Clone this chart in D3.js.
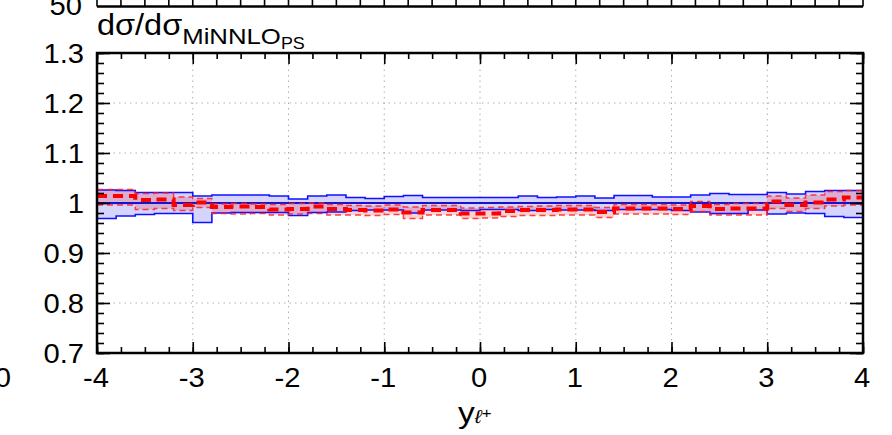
<!DOCTYPE html>
<html>
<head>
<meta charset="utf-8">
<script src="https://cdn.jsdelivr.net/npm/d3@7"></script>
<style>
  html, body { margin: 0; padding: 0; background: #fff; }
  svg { display: block; }
  text { font-family: "Liberation Sans", Arial, Helvetica, sans-serif; fill: #000; }
</style>
</head>
<body>
<svg id="chart" width="892" height="435"></svg>
<script>
// Bin edges of the rapidity histogram (0.2 wide)
const binEdges = [-4.0, -3.8, -3.6, -3.4, -3.2, -3.0, -2.8, -2.6, -2.4, -2.2, -2.0,
  -1.8, -1.6, -1.4, -1.2, -1.0, -0.8, -0.6, -0.4, -0.2, 0.0,
  0.2, 0.4, 0.6, 0.8, 1.0, 1.2, 1.4, 1.6, 1.8, 2.0,
  2.2, 2.4, 2.6, 2.8, 3.0, 3.2, 3.4, 3.6, 3.8, 4.0];

// MiNNLO_PS scale band relative to its central value
const refUpper = [1.026, 1.025, 1.021, 1.021, 1.021, 1.014, 1.016, 1.016, 1.016, 1.014,
  1.008, 1.014, 1.016, 1.011, 1.009, 1.013, 1.015, 1.011, 1.011, 1.011,
  1.011, 1.011, 1.014, 1.011, 1.012, 1.014, 1.010, 1.015, 1.015, 1.012,
  1.012, 1.016, 1.019, 1.017, 1.017, 1.021, 1.018, 1.023, 1.025, 1.025];
const refLower = [0.969, 0.974, 0.977, 0.979, 0.979, 0.961, 0.980, 0.981, 0.981, 0.981,
  0.975, 0.981, 0.982, 0.985, 0.986, 0.986, 0.980, 0.986, 0.986, 0.985,
  0.987, 0.987, 0.985, 0.987, 0.986, 0.986, 0.985, 0.987, 0.987, 0.987,
  0.985, 0.982, 0.979, 0.979, 0.986, 0.978, 0.980, 0.979, 0.973, 0.971];

// Comparison prediction (central value and scale band) relative to MiNNLO_PS
const cmpCentral = [1.014, 1.014, 1.006, 1.007, 0.996, 1.001, 0.992, 0.993, 0.992, 0.987,
  0.988, 0.993, 0.988, 0.986, 0.985, 0.987, 0.981, 0.986, 0.986, 0.979,
  0.979, 0.984, 0.986, 0.986, 0.987, 0.987, 0.982, 0.989, 0.989, 0.989,
  0.988, 0.994, 0.988, 0.989, 0.989, 1.003, 0.996, 1.001, 1.007, 1.011];
const cmpUpper = [1.027, 1.027, 1.019, 1.020, 1.012, 1.009, 0.998, 0.999, 0.998, 0.997,
  0.999, 1.000, 0.997, 0.995, 0.994, 0.996, 0.992, 0.995, 0.995, 0.990,
  0.991, 0.992, 0.993, 0.994, 0.995, 0.995, 0.991, 0.997, 0.997, 0.997,
  0.996, 1.003, 0.997, 0.999, 0.999, 1.014, 1.010, 1.016, 1.023, 1.025];
const cmpLower = [0.996, 0.996, 0.987, 0.989, 0.985, 0.991, 0.979, 0.978, 0.979, 0.976,
  0.978, 0.979, 0.976, 0.976, 0.975, 0.977, 0.969, 0.976, 0.976, 0.969,
  0.970, 0.973, 0.975, 0.975, 0.976, 0.976, 0.971, 0.978, 0.978, 0.978,
  0.977, 0.983, 0.976, 0.976, 0.976, 0.989, 0.983, 0.989, 0.994, 0.996];

// Axis ticks
const xMajorTicks = [-4, -3, -2, -1, 0, 1, 2, 3, 4];
const xTickLabels = ["-4", "-3", "-2", "-1", "0", "1", "2", "3", "4"];
const yMajorTicks = [0.7, 0.8, 0.9, 1.0, 1.1, 1.2, 1.3];
const yTickLabels = ["0.7", "0.8", "0.9", "1", "1.1", "1.2", "1.3"];

const svg = d3.select("#chart");
const plot = { left: 97, right: 863, top: 53, bottom: 353 };
const stretch = 1.08; // slightly wide lettering

const x = d3.scaleLinear().domain([-4, 4]).range([plot.left, plot.right]);
const y = d3.scaleLinear().domain([0.7, 1.3]).range([plot.bottom, plot.top]);

const xMinor = d3.range(-4, 4.0001, 0.25).map(v => +v.toFixed(2));
const yMinor = d3.range(0.7, 1.3001, 0.02).map(v => +v.toFixed(2));

// Histogram helper: turns per-bin values into a stepped series
function steps(vals) {
  const pts = [];
  vals.forEach((v, i) => { pts.push([binEdges[i], v]); pts.push([binEdges[i + 1], v]); });
  return pts;
}
function bandSteps(lo, hi) {
  const pts = [];
  lo.forEach((v, i) => {
    pts.push({ x: binEdges[i], lo: v, hi: hi[i] });
    pts.push({ x: binEdges[i + 1], lo: v, hi: hi[i] });
  });
  return pts;
}
const line = d3.line().x(d => x(d[0])).y(d => y(d[1]));
const area = d3.area().x(d => x(d.x)).y0(d => y(d.lo)).y1(d => y(d.hi));

// Dotted grid at major ticks
const grid = svg.append("g");
grid.selectAll(".gx").data(xMajorTicks.slice(1, -1)).join("line")
  .attr("x1", d => x(d)).attr("x2", d => x(d))
  .attr("y1", plot.top).attr("y2", plot.bottom)
  .attr("stroke", "#b0b0b0").attr("stroke-width", 1).attr("stroke-dasharray", "1.5,4");
grid.selectAll(".gy").data(yMajorTicks.slice(1, -1)).join("line")
  .attr("x1", plot.left).attr("x2", plot.right)
  .attr("y1", d => y(d)).attr("y2", d => y(d))
  .attr("stroke", "#b0b0b0").attr("stroke-width", 1).attr("stroke-dasharray", "1.5,4");

// MiNNLO_PS band
svg.append("path").datum(bandSteps(refLower, refUpper))
  .attr("d", area).attr("fill", "rgba(40,40,255,0.2)");
// Comparison band
svg.append("path").datum(bandSteps(cmpLower, cmpUpper))
  .attr("d", area).attr("fill", "rgba(255,0,0,0.18)");

// Band outlines
[refUpper, refLower].forEach(vals => {
  svg.append("path").datum(steps(vals)).attr("d", line)
    .attr("fill", "none").attr("stroke", "#1010ff").attr("stroke-width", 1.6);
});
svg.append("path").datum(steps(binEdges.slice(1).map(() => 1.0))).attr("d", line)
  .attr("fill", "none").attr("stroke", "#1515d0").attr("stroke-width", 2);

[cmpUpper, cmpLower].forEach(vals => {
  svg.append("path").datum(steps(vals)).attr("d", line)
    .attr("fill", "none").attr("stroke", "#ff2020").attr("stroke-opacity", 0.85)
    .attr("stroke-width", 1.4).attr("stroke-dasharray", "6,4");
});
svg.append("path").datum(steps(cmpCentral)).attr("d", line)
  .attr("fill", "none").attr("stroke", "#ff0000").attr("stroke-width", 4)
  .attr("stroke-dasharray", "10,6");

// Frame with inward ticks on all four sides
function tickAxis(axisFn, scale, vals, size, transform) {
  const g = svg.append("g").attr("transform", transform)
    .call(axisFn(scale).tickValues(vals).tickSize(size).tickFormat(""));
  g.select(".domain").remove();
  g.selectAll(".tick line").attr("stroke", "#000").attr("stroke-width", 1.6);
  return g;
}
tickAxis(d3.axisBottom, x, xMinor, -6, `translate(0,${plot.bottom})`);
tickAxis(d3.axisBottom, x, xMajorTicks, -11, `translate(0,${plot.bottom})`);
tickAxis(d3.axisTop, x, xMinor, -6, `translate(0,${plot.top})`);
tickAxis(d3.axisTop, x, xMajorTicks, -11, `translate(0,${plot.top})`);
tickAxis(d3.axisLeft, y, yMinor, -7, `translate(${plot.left},0)`);
tickAxis(d3.axisLeft, y, yMajorTicks, -13, `translate(${plot.left},0)`);
tickAxis(d3.axisRight, y, yMinor, -7, `translate(${plot.right},0)`);
tickAxis(d3.axisRight, y, yMajorTicks, -13, `translate(${plot.right},0)`);

svg.append("rect")
  .attr("x", plot.left).attr("y", plot.top)
  .attr("width", plot.right - plot.left).attr("height", plot.bottom - plot.top)
  .attr("fill", "none").attr("stroke", "#000").attr("stroke-width", 2.5);

// Text placed with a gentle horizontal stretch
function label(px, py, size, anchor) {
  return svg.append("text")
    .attr("transform", `translate(${px},${py}) scale(${stretch},1)`)
    .attr("text-anchor", anchor).attr("font-size", size);
}

// Tick labels
xMajorTicks.forEach((v, i) => label(x(v) - 1, 387, 27, "middle").text(xTickLabels[i]));
yMajorTicks.forEach((v, i) => label(84, y(v) + 10, 27, "end").text(yTickLabels[i]));

// Ratio label
const title = svg.append("text")
  .attr("transform", `translate(97,35) scale(1.12,1)`).attr("font-size", 29);
title.append("tspan").text("dσ/dσ");
title.append("tspan").attr("font-size", 23).attr("dy", 9).text("MiNNLO");
title.append("tspan").attr("font-size", 16).attr("dy", 5).text("PS");

// Axis title
const xt = svg.append("text")
  .attr("transform", `translate(458,423) scale(1.12,1)`).attr("font-size", 30);
xt.append("tspan").text("y");
xt.append("tspan").attr("font-size", 19).attr("font-style", "italic").text("ℓ");
xt.append("tspan").attr("font-size", 15).attr("dy", -5).text("+");

// Edge of the panel above and the neighbouring panel's label
svg.append("line").attr("x1", plot.left).attr("x2", plot.right).attr("y1", 6.5).attr("y2", 6.5)
  .attr("stroke", "#000").attr("stroke-width", 2.5);
svg.append("g").selectAll("line").data(xMinor).join("line")
  .attr("x1", d => x(d)).attr("x2", d => x(d)).attr("y1", 0).attr("y2", 6.5)
  .attr("stroke", "#000").attr("stroke-width", 1.6);
label(82, 15, 27, "end").text("50");
label(11, 387, 27, "end").text("0");
</script>
</body>
</html>
